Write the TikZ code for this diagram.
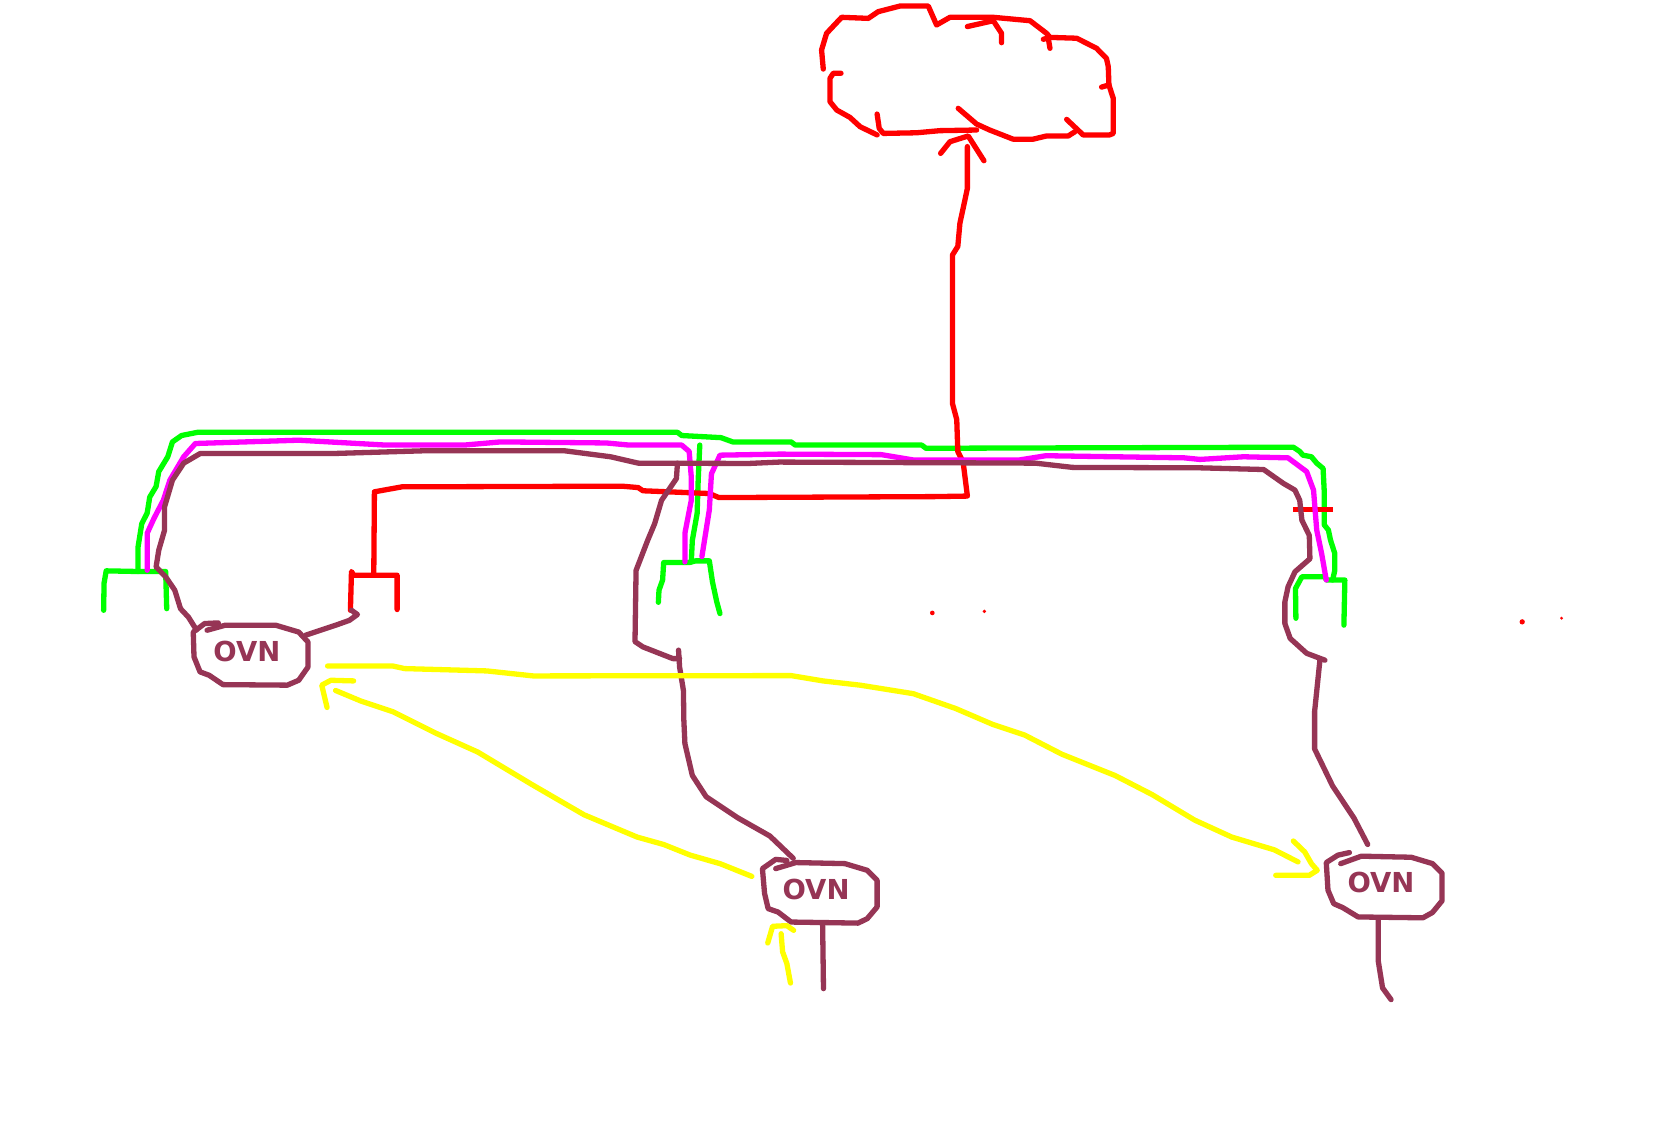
\documentclass[tikz,border=0pt]{standalone}
\usepackage{fontspec}
\setmainfont{DejaVu Sans}
\definecolor{ovnmaroon}{RGB}{150,53,85}
\definecolor{inkred}{RGB}{255,0,0}
\definecolor{inkgreen}{RGB}{0,255,0}
\definecolor{inkpink}{RGB}{255,0,255}
\definecolor{inkyellow}{RGB}{255,255,0}
\tikzset{
  sketch/.style={line width=5.3pt,line cap=round,line join=round},
  redink/.style={sketch,draw=inkred},
  greenink/.style={sketch,draw=inkgreen},
  pinkink/.style={sketch,draw=inkpink},
  maroonink/.style={sketch,draw=ovnmaroon},
  yellowink/.style={sketch,draw=inkyellow},
  ovnlabel/.style={text=ovnmaroon,font=\fontsize{27.5}{29}\selectfont\bfseries,inner sep=0pt}
}
\begin{document}
\begin{tikzpicture}[x=1.06186pt,y=-1.06226pt]
\useasboundingbox (0,0) rectangle (1568,1060);
\fill[white] (0,0) rectangle (1568,1060);
% green
\draw[greenink] (130,538)--(130,515)--(133.5,493)--(138.6,483)--(141,468)--(147,458)--(149.5,444)--(158,430)--(162.4,416)--(171,410)--(186,407)--(638,407)--(642,410)--(679,412)--(690,416)--(745,416)--(749,419)--(868,419)--(872,422)--(1218,421)--(1224,425)--(1227,428.5)--(1235,430)--(1240,436)--(1246,441)--(1247,461)--(1247,494)--(1251,499)--(1253,508.5)--(1257,521)--(1257,537)--(1255,546);
\draw[greenink] (97.6,574.5)--(98,549)--(100,537.4)--(130,538)--(156,538)--(157,573);
\draw[greenink] (620,567)--(620.6,555.6)--(624,546)--(625,529.6)--(649,529.6)--(655,528)--(668,528)--(671,548)--(675,566.6)--(678,577.6);
\draw[greenink] (651,529)--(652,508.6)--(656.5,483.4)--(657.5,452)--(659,419);
\draw[greenink] (1220.4,582)--(1220,554)--(1226,543)--(1248,543)--(1249,546)--(1266.5,546)--(1265.6,588.5);
% red
\draw[redink] (775.3,65)--(773.7,47)--(778.4,31.4)--(792.6,16.3)--(817.7,17.3)--(827,11)--(847.5,5.7)--(874.2,5.7)--(882,23.5)--(894.6,16.3)--(935.4,16.3)--(970,19.5)--(985.6,31.4)--(988.8,35.2)--(1014,36)--(1032.7,45.5)--(1042,55)--(1043.7,62.8)--(1044.3,80)--(1037.4,82);
\draw[redink] (982.5,37)--(988.8,35.2);
\draw[redink] (1044.3,80)--(1048.4,92.6)--(1048.4,125.6)--(1045,127)--(1020,127)--(1004.5,112.4);
\draw[redink] (1012.3,124)--(1006,128)--(985.6,128)--(973,131)--(954,131)--(932,122.4)--(919.7,116.8)--(902.4,102);
\draw[redink] (919.7,122.4)--(885.2,123)--(863.2,125)--(831.8,125.6)--(828,120.9)--(826,107.4);
\draw[redink] (826,127)--(810,119.3)--(800.4,110.5)--(788,103.6)--(781.6,95.7)--(781.6,73.8)--(784.7,69)--(792,69);
\draw[redink] (911,25)--(935.4,19.5)--(943.2,31.4)--(943.2,40.2);
\draw[redink] (988.8,45.5)--(987.2,36);
\draw[redink] (885.8,144.4)--(894.6,133.4)--(911.8,128)--(926.6,151.3);
\draw[redink] (911,138)--(911,177.4)--(908.7,188.3)--(904,210)--(902,232)--(897,240)--(897,380)--(901,395)--(902,425)--(907,435)--(911,467)--(880,467.5)--(677,468.4)--(668,464.6)--(605.5,462)--(601,459)--(586,457.7)--(378.6,458.3)--(352.6,463)--(352,540);
\draw[redink] (330,574.5)--(331,538)--(333,541.5)--(374,541.5)--(374,573.8);
\draw[redink,line cap=butt] (1218,479.6)--(1255.6,479.6);
\fill[inkred] (1433.5,585.4) circle (2.5) (1470.6,582) circle (1.5) (878,577) circle (2.2) (927,575.5) circle (1.7);
% magenta
\draw[pinkink] (138.6,536.8)--(138.6,502)--(145,488)--(153.8,471)--(160,452)--(173,430)--(184,417.5)--(281.3,414.4)--(363.4,419)--(437,419)--(471.5,416)--(571,417)--(592.5,419)--(642,419)--(649,425)--(651,449)--(651,471)--(645,502)--(645,529);
\draw[pinkink] (661,524)--(668,480)--(670,446)--(678,428.5)--(734,427.5)--(830,428)--(860,433)--(960,433)--(985,429)--(1115,431)--(1130,432.5)--(1171,430)--(1213,431)--(1230.5,444)--(1237,461.4)--(1240,499)--(1244.6,521)--(1249,546);
% maroon
\draw[maroonink] (185,593)--(177.5,581)--(170,573)--(164.6,555.6)--(156,543)--(147,533.7)--(149.5,518)--(155,499)--(155,477)--(162.4,452)--(173,436)--(188.4,427)--(311.6,427)--(398,424.4)--(532,424.4)--(575,430)--(601,436)--(705,436.3)--(734,435)--(975,436)--(1010,440)--(1130,440.4)--(1190,442)--(1208.5,455)--(1219.5,461.4)--(1224,471)--(1226,489.6)--(1233,504)--(1233.6,526)--(1219.5,538.3)--(1213,552.4)--(1210,566.6)--(1210,587)--(1215,601)--(1230.5,615)--(1247.7,621.5);
\draw[maroonink] (1243,621.5)--(1238,670)--(1238,705)--(1255,740)--(1275,770)--(1288,795);
\draw[maroonink] (205.6,586.4)--(192.7,587)--(182,595)--(182.7,618.4)--(188.4,632.5)--(197,635.7)--(210,644.5)--(270.5,645)--(281.3,640.4)--(290,628)--(290,604.3)--(281.3,595)--(259.7,588.6)--(212,588.6)--(195,593.3);
\draw[maroonink] (287.8,598)--(316,588.6)--(329,584)--(336.6,578.5)--(331,574.5);
\draw[maroonink] (638,436)--(637,450.5)--(623,471)--(616.5,493)--(610,508.5)--(599,537)--(598,604)--(605.5,609)--(633.6,620)--(640,620);
\draw[maroonink] (639,612)--(640,628)--(643.6,650)--(644,678)--(645,700)--(652,730)--(665,750)--(695,770)--(725,787)--(747,808);
\draw[maroonink] (741,810)--(730.5,809)--(718,817.7)--(720,841)--(723.4,855.4)--(732.6,858.5)--(745,868)--(808,869)--(816.7,864.8)--(826,853.8)--(826,828.7)--(816.7,819.3)--(795.7,813)--(749.5,812)--(730.5,817.7);
\draw[maroonink] (774.7,871)--(775.5,930.7);
\draw[maroonink] (1270.8,802.6)--(1260,805)--(1249,812)--(1250.6,838)--(1256,850.7)--(1264.5,854.4)--(1279,863.2)--(1340,864)--(1349,859)--(1358,848)--(1358,822)--(1349,813)--(1329,807)--(1282,806)--(1262.6,813);
\draw[maroonink] (1298,865)--(1298,905)--(1302,930)--(1310,941);
% yellow
\draw[yellowink] (308.5,627)--(370,627)--(381,629.4)--(458.5,631.6)--(502,636.3)--(745,636)--(775,641)--(810,645)--(860,653)--(900,667)--(935,682)--(965,692)--(1000,710)--(1050,730)--(1085,748)--(1125,772)--(1160,788)--(1200,800)--(1222.4,811.4);
\draw[yellowink] (1218,791.7)--(1228.7,802)--(1235,813)--(1240.5,819.3)--(1233,824)--(1201.4,824);
\draw[yellowink] (708,825)--(678,813)--(650,805)--(625,795)--(600,788)--(550,767)--(500,738)--(450,708)--(410,690)--(370,670)--(340,660)--(316,650);
\draw[yellowink] (308,666)--(303,645)--(311.6,640.4)--(333,641);
\draw[yellowink] (723,887.7)--(727.6,872)--(741,871.4)--(747.4,875.8);
\draw[yellowink] (735.6,879)--(737,896)--(741,907)--(744.4,925.4);
% labels
\node[ovnlabel] (ovnA) at (232.5,613) {OVN};
\node[ovnlabel] (ovnB) at (768.5,837) {OVN};
\node[ovnlabel] (ovnC) at (1300.5,831) {OVN};
\end{tikzpicture}
\end{document}
